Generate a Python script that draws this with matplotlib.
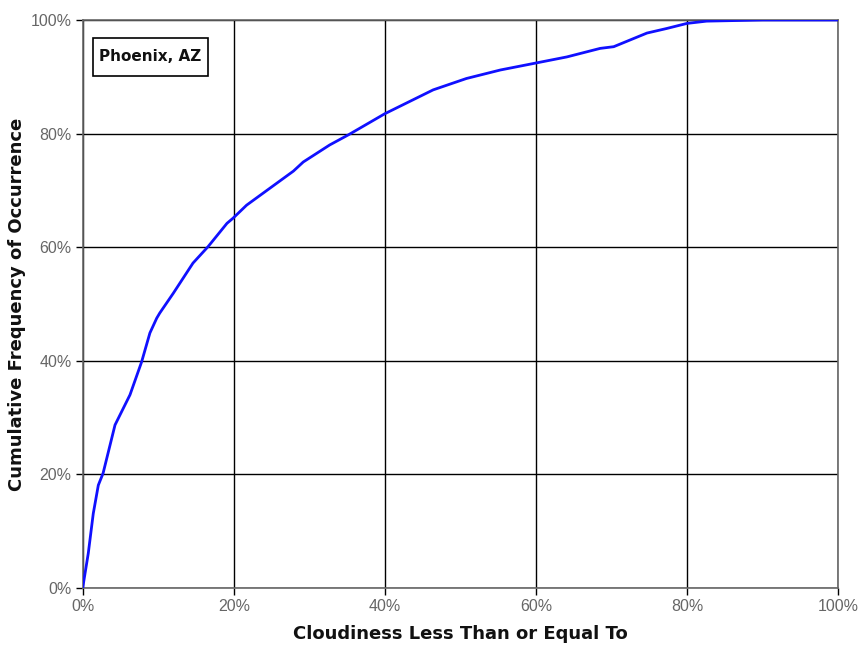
import matplotlib
matplotlib.use("Agg")
import matplotlib.pyplot as plt
from matplotlib.patches import Rectangle
from matplotlib.ticker import PercentFormatter

# Cloudiness (%) and cumulative frequency (%)
cloudiness = [0, 0.74, 1.4, 2.07, 2.7, 4.28, 6.26, 7.8, 8.9, 9.8, 10.2, 12.0,
              14.6, 16.6, 19.1, 19.9, 21.7, 24.8, 27.9, 29.2, 32.7, 35.2, 40.0, 46.4,
              50.8, 55.3, 59.9, 64.1, 68.5, 70.3, 74.7, 77.3, 80.0, 82.6, 90.0, 100.0]
cum_freq = [0, 6.1, 13.1, 18.1, 20.2, 28.7, 34.0, 39.8, 44.9, 47.5, 48.4, 51.9,
            57.2, 60.1, 64.2, 65.1, 67.4, 70.4, 73.4, 75.0, 78.0, 79.8, 83.5, 87.7,
            89.7, 91.2, 92.4, 93.5, 95.0, 95.3, 97.7, 98.5, 99.4, 99.8, 100.0, 100.0]
x_ticks = [0, 20, 40, 60, 80, 100]
y_ticks = [0, 20, 40, 60, 80, 100]
station = "Phoenix, AZ"

plt.rcParams['font.family'] = ['Liberation Sans', 'DejaVu Sans']

fig = plt.figure(figsize=(8.64, 6.45), dpi=100)
ax = fig.add_axes([0.0957, 0.0884, 0.8743, 0.8806])

ax.plot(cloudiness, cum_freq, color='#1010ff', lw=2.0, zorder=3)

ax.set_xlim(0, 100)
ax.set_ylim(0, 100)
ax.set_xticks(x_ticks)
ax.set_yticks(y_ticks)
ax.xaxis.set_major_formatter(PercentFormatter(decimals=0))
ax.yaxis.set_major_formatter(PercentFormatter(decimals=0))
ax.grid(True, color='black', lw=1.0)
ax.set_axisbelow(True)
for s in ax.spines.values():
    s.set_color('#666666')
    s.set_linewidth(1.2)
ax.tick_params(direction='out', length=5, width=1, color='black',
               labelsize=11.5, labelcolor='#666666', pad=3)

lab_font = dict(family=['DejaVu Sans'], fontsize=13, fontweight='bold', color='#111111')
ax.set_xlabel("Cloudiness Less Than or Equal To", labelpad=8, **lab_font)
ax.set_ylabel("Cumulative Frequency of Occurrence", labelpad=3, **lab_font)

ax.add_patch(Rectangle((0.0136, 0.9014), 0.1523, 0.0669, transform=ax.transAxes,
                       fc='white', ec='black', lw=1.2, zorder=4))
ax.text(0.0898, 0.9349, station, transform=ax.transAxes, family=['DejaVu Sans'],
        fontsize=11, fontweight='bold', color='#111111', va='center', ha='center',
        zorder=5)

fig.savefig("out.png", dpi=100)
